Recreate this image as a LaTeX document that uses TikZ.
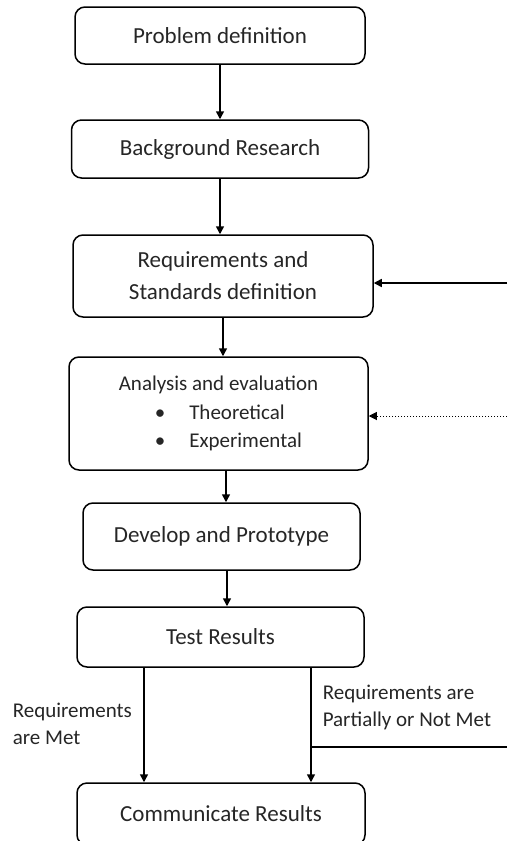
\documentclass[tikz,border=0pt]{standalone}
\usepackage{fontspec}
\setmainfont{Carlito}
\usetikzlibrary{arrows.meta}
\begin{document}
\begin{tikzpicture}[
		x=1pt, y=-1pt,
		line width=1.5pt,
		every node/.style={text=black!85},
		stepbox/.style={draw, rounded corners=10pt, align=center, inner sep=0pt, font=\fontsize{23}{32}\selectfont},
		flow/.style={-{Triangle[length=8pt,width=8pt]}},
		feedback/.style={flow, dotted, line width=1pt},
		cond/.style={align=left, anchor=west, inner sep=0pt, font=\fontsize{21}{26.5}\selectfont}
		]
	\clip (0, 0) rectangle (507, 841);
	
	% Steps
	\node[stepbox, minimum width=290pt, minimum height=57pt] (prob) at (220, 35.5) {Problem definition};
	\node[stepbox, minimum width=297pt, minimum height=58pt] (back) at (220, 149) {Background Research};
	\node[stepbox, minimum width=300pt, minimum height=82pt] (req) at (223, 276) {Requirements and\\Standards definition};
	\node[stepbox, minimum width=299pt, minimum height=113pt, align=left, font=\fontsize{21}{28.5}\selectfont] (anl) at (218.5, 413.5)
		{Analysis and evaluation\\\hspace*{36pt}\textbullet\hspace{24pt}Theoretical\\\hspace*{36pt}\textbullet\hspace{24pt}Experimental};
	\node[stepbox, minimum width=277pt, minimum height=67pt] (dev) at (221.5, 536.5) {Develop and Prototype};
	\node[stepbox, minimum width=287pt, minimum height=60pt] (test) at (220.5, 637) {Test Results};
	\node[stepbox, minimum width=288pt, minimum height=62pt] (comm) at (221, 814) {Communicate Results};
	
	% Main flow
	\draw[flow] (prob.south) -- (prob.south |- back.north);
	\draw[flow] (back.south) -- (back.south |- req.north);
	\draw[flow] (req.south) -- (req.south |- anl.north);
	\draw[flow] ([xshift=7.5pt]anl.south) -- ([xshift=7.5pt]anl.south |- dev.north);
	\draw[flow] ([xshift=5.5pt]dev.south) -- ([xshift=5.5pt]dev.south |- test.north);
	
	% Outcomes of the test
	\draw[flow] ([xshift=-76.5pt]test.south) -- ([xshift=-76.5pt]test.south |- comm.north);
	\draw[flow] ([xshift=90.5pt]test.south) -- ([xshift=90.5pt]test.south |- comm.north);
	\node[cond] (met) at (12, 724) {Requirements\\are Met};
	\node[cond] (notmet) at (322, 707.5) {Requirements are\\Partially or Not Met};
	
	% Feedback lines
	\coordinate (loop) at (507, 747);
	\coordinate (backreq) at (507, 283);
	\coordinate (backanl) at (507, 416);
	\draw ([xshift=90.5pt]test.south |- loop) -- (loop);
	\draw[flow] (backreq) -- (backreq -| req.east);
	\draw[feedback] (backanl) -- (backanl -| anl.east);
	
\end{tikzpicture}
\end{document}
